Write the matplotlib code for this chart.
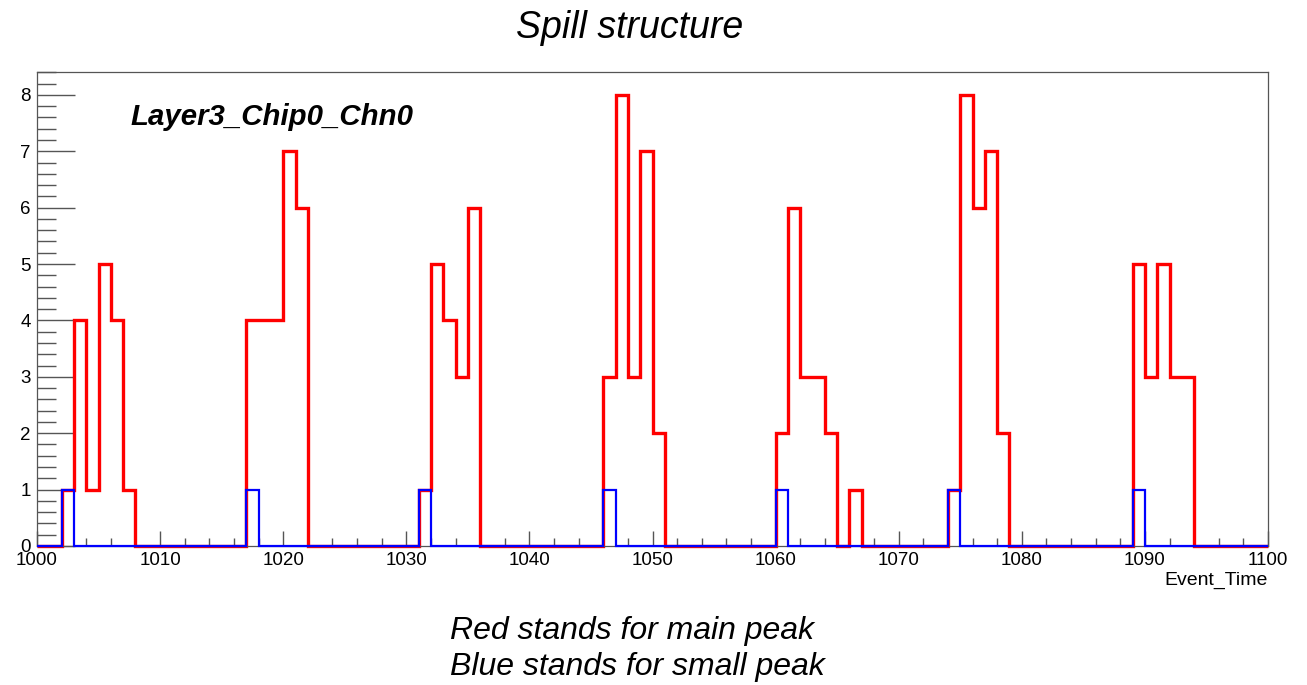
import numpy as np
import matplotlib
matplotlib.use("Agg")
import matplotlib.pyplot as plt
from matplotlib.ticker import MultipleLocator

# Histogram binning: one bin per unit of Event_Time
x_min, x_max = 1000, 1100

# Main-peak counts (red), by event-time bin
red_times = [1002, 1003, 1004, 1005, 1006, 1007,
             1017, 1018, 1019, 1020, 1021,
             1031, 1032, 1033, 1034, 1035,
             1046, 1047, 1048, 1049, 1050,
             1060, 1061, 1062, 1063, 1064, 1066,
             1074, 1075, 1076, 1077, 1078,
             1089, 1090, 1091, 1092, 1093]
red_counts = [1, 4, 1, 5, 4, 1,
              4, 4, 4, 7, 6,
              1, 5, 4, 3, 6,
              3, 8, 3, 7, 2,
              2, 6, 3, 3, 2, 1,
              1, 8, 6, 7, 2,
              5, 3, 5, 3, 3]

# Small-peak counts (blue)
blue_times = [1002, 1017, 1031, 1046, 1060, 1074, 1089]
blue_counts = [1, 1, 1, 1, 1, 1, 1]

edges = np.arange(x_min, x_max + 1)
red_hist = np.zeros(len(edges) - 1)
red_hist[np.array(red_times) - x_min] = red_counts
blue_hist = np.zeros(len(edges) - 1)
blue_hist[np.array(blue_times) - x_min] = blue_counts

plt.rcParams["font.family"] = ["Liberation Sans", "DejaVu Sans"]

W, H = 1307, 685
fig = plt.figure(figsize=(W / 100, H / 100), dpi=100)
ax_left, ax_right, ax_top, ax_bottom = 37, 1268, 72.3, 546
ax = fig.add_axes([ax_left / W, 1 - ax_bottom / H,
                   (ax_right - ax_left) / W, (ax_bottom - ax_top) / H])

ax.stairs(red_hist, edges, color="#ff0000", linewidth=2.4, baseline=0,
          clip_on=False, zorder=2)
ax.stairs(blue_hist, edges, color="#0000ff", linewidth=1.6, baseline=0,
          clip_on=False, zorder=3)

ax.set_xlim(x_min, x_max)
ax.set_ylim(0, 8.4)

frame_color = "#555555"
for s in ax.spines.values():
    s.set_color(frame_color)
    s.set_linewidth(0.9)

ax.xaxis.set_major_locator(MultipleLocator(10))
ax.xaxis.set_minor_locator(MultipleLocator(2))
ax.yaxis.set_major_locator(MultipleLocator(1))
ax.yaxis.set_minor_locator(MultipleLocator(0.2))

ax.tick_params(axis="both", which="both", direction="in", color=frame_color,
               width=1.0, labelsize=13.5, labelcolor="black")
ax.tick_params(axis="x", which="major", length=11, pad=4)
ax.tick_params(axis="x", which="minor", length=5.5)
ax.tick_params(axis="y", which="major", length=27, pad=4.5)
ax.tick_params(axis="y", which="minor", length=14)
ax.tick_params(top=False, right=False, which="both")

# Axis title, right-aligned under the x axis
fig.text(ax_right / W, 1 - 585 / H, "Event_Time", ha="right", va="baseline",
         fontsize=14)

# Plot title
fig.text(630 / W, 1 - 38 / H, "Spill structure", ha="center", va="baseline",
         fontsize=27, style="italic")

# Channel label inside the frame
fig.text(130 / W, 1 - 125 / H, "Layer3_Chip0_Chn0", ha="left", va="baseline",
         fontsize=21.2, style="italic", weight="bold")

# Colour key below the plot
fig.text(450 / W, 1 - 639 / H, "Red stands for main peak", ha="left",
         va="baseline", fontsize=23, style="italic")
fig.text(450 / W, 1 - 675 / H, "Blue stands for small peak", ha="left",
         va="baseline", fontsize=23, style="italic")

fig.savefig("out.png", dpi=100, facecolor="white")
